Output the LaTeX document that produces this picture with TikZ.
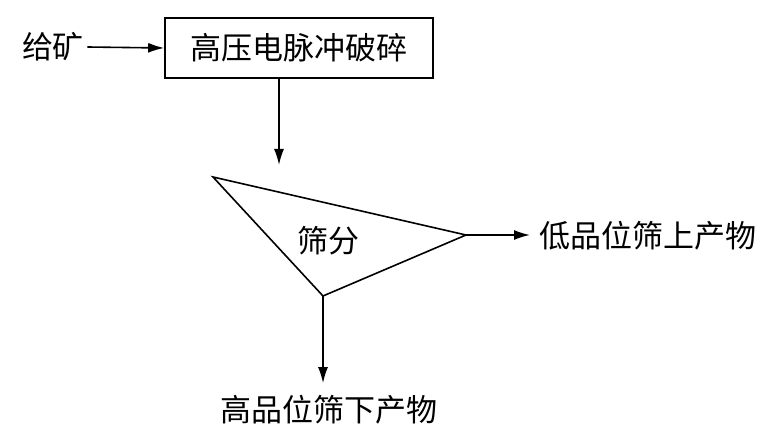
\documentclass[tikz,border=0pt]{standalone}
\usepackage{fontspec}
\usepackage{tikz}
\usetikzlibrary{arrows.meta, positioning}
\newfontfamily\cjk{Noto Sans CJK SC}

\begin{document}
\begin{tikzpicture}[
    x=0.5pt, y=-0.5pt,
    txt/.style={font=\cjk\fontsize{15.5}{18}\selectfont, inner sep=0pt},
    process/.style={draw, line width=0.8pt, minimum width=134pt, minimum height=30pt, font=\cjk\fontsize{15.5}{18}\selectfont},
    arrow/.style={-{Latex[length=8pt, width=5pt]}, line width=0.8pt}
]
    \useasboundingbox (0,0) rectangle (772,438);

    \node[txt] (feed) at (53,47) {给矿};
    \node[process] (crush) at (299,48) {高压电脉冲破碎};

    % screen
    \coordinate (scrA) at (213,177);
    \coordinate (scrB) at (466,235);
    \coordinate (scrC) at (323,296);
    \coordinate (scrIn) at (279,165);
    \draw[line width=0.8pt] (scrA) -- (scrB) -- (scrC) -- cycle;
    \node[txt] (screen) at (328,241) {筛分};

    \node[txt, anchor=west] (over) at (539,236) {低品位筛上产物};
    \node[txt] (under) at (329,410) {高品位筛下产物};

    \draw[arrow] ([xshift=1.5pt]feed.east) -- (crush.west);
    \draw[arrow] (crush.south -| scrIn) -- (scrIn);
    \draw[arrow, shorten >=4.5pt] (scrB) -- (over.west |- scrB);
    \draw[arrow, shorten >=6pt] (scrC) -- (scrC |- under.north);
\end{tikzpicture}
\end{document}
